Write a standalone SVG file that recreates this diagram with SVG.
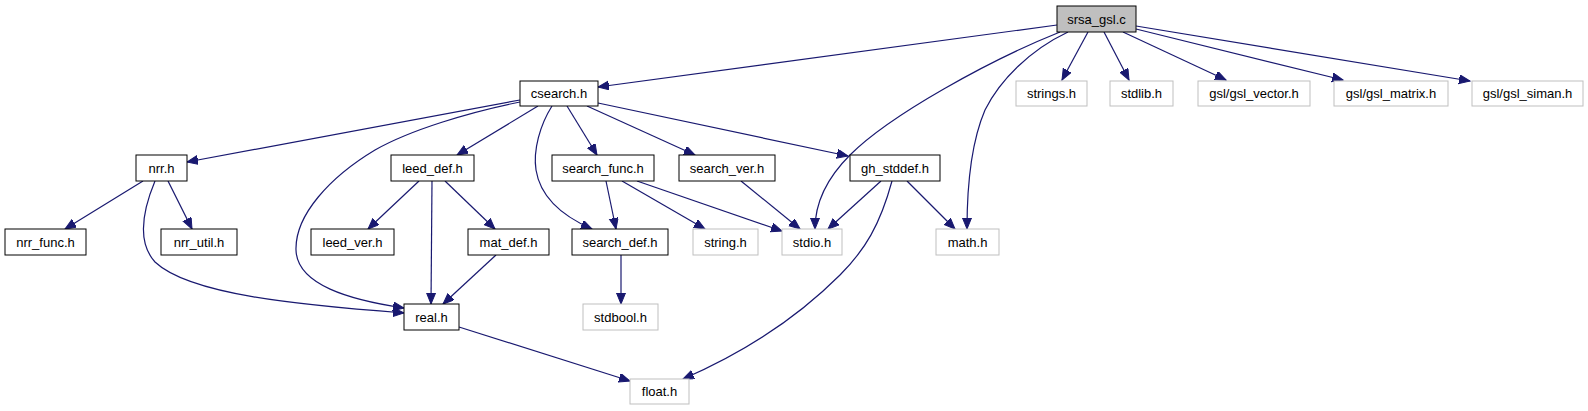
<svg xmlns="http://www.w3.org/2000/svg" width="1588" height="411" viewBox="0 0 1588 411">
<defs>
<marker id="ah" markerUnits="userSpaceOnUse" markerWidth="13" markerHeight="10" refX="11" refY="4.5" orient="auto">
<path d="M0,0 L11,4.5 L0,9 z" fill="#191970" stroke="#191970" stroke-width="1"/>
</marker>
<style>
.n rect{fill:#fff;stroke:#000;stroke-width:1}
.n.g rect{stroke:#bfbfbf}
.n.root rect{fill:#bfbfbf}
.n text{font-family:"Liberation Sans",Arial,sans-serif;font-size:13px;text-anchor:middle;fill:#000}
#edges path{fill:none;stroke:#191970;stroke-width:1.2;marker-end:url(#ah)}
</style>
</defs>
<rect width="1588" height="411" fill="#fff"/>
<g id="edges">
<path d="M1057,25 L598,87"/>
<path d="M1060,32 C 990,60 890,115 850,155 C 825,180 815,205 815,229"/>
<path d="M1068,32 C 1030,50 1000,80 985,110 C 970,145 967,190 967,229"/>
<path d="M1088,32 L1062,80"/>
<path d="M1104,32 L1129,80"/>
<path d="M1123,32 L1226,80"/>
<path d="M1136,29 L1343,80"/>
<path d="M1136,26 L1470,81"/>
<path d="M520,100 L187,162"/>
<path d="M520,102 C 470,112 410,130 375,150 C 330,177 295,215 296,250 C 297,285 350,300 404,308"/>
<path d="M538,106 L457,155"/>
<path d="M552,106 C 540,125 533,150 536,170 C 540,195 560,215 592,229"/>
<path d="M567,106 L597,155"/>
<path d="M587,106 L695,155"/>
<path d="M598,103 L848,156"/>
<path d="M143,181 L65,229"/>
<path d="M168,181 L192,229"/>
<path d="M155,181 C 145,205 135,240 155,262 C 190,295 300,305 404,313"/>
<path d="M419,181 L368,229"/>
<path d="M432,181 L431,304"/>
<path d="M445,181 L495,229"/>
<path d="M496,255 L443,304"/>
<path d="M606,181 L616,229"/>
<path d="M622,181 L705,229"/>
<path d="M637,181 L782,231"/>
<path d="M741,181 L800,229"/>
<path d="M881,181 L828,229"/>
<path d="M907,181 L955,229"/>
<path d="M892,181 C 880,225 865,250 840,275 C 800,315 750,350 683,379"/>
<path d="M621,255 L621,304"/>
<path d="M459,327 L630,381"/>
</g>
<g id="n_srsa" class="n root"><rect x="1057" y="6" width="79" height="26"/><text x="1096.5" y="23.5">srsa_gsl.c</text></g>
<g id="n_csearch" class="n"><rect x="520" y="81" width="78" height="25"/><text x="559" y="98">csearch.h</text></g>
<g id="n_strings" class="n g"><rect x="1016" y="81" width="71" height="25"/><text x="1051.5" y="98">strings.h</text></g>
<g id="n_stdlib" class="n g"><rect x="1110" y="81" width="63" height="25"/><text x="1141.5" y="98">stdlib.h</text></g>
<g id="n_gslvector" class="n g"><rect x="1198" y="81" width="112" height="25"/><text x="1254" y="98">gsl/gsl_vector.h</text></g>
<g id="n_gslmatrix" class="n g"><rect x="1334" y="81" width="114" height="25"/><text x="1391" y="98">gsl/gsl_matrix.h</text></g>
<g id="n_gslsiman" class="n g"><rect x="1472" y="81" width="111" height="25"/><text x="1527.5" y="98">gsl/gsl_siman.h</text></g>
<g id="n_nrr" class="n"><rect x="136" y="155" width="51" height="26"/><text x="161.5" y="172.5">nrr.h</text></g>
<g id="n_leeddef" class="n"><rect x="391" y="155" width="83" height="26"/><text x="432.5" y="172.5">leed_def.h</text></g>
<g id="n_searchfunc" class="n"><rect x="552" y="155" width="102" height="26"/><text x="603" y="172.5">search_func.h</text></g>
<g id="n_searchver" class="n"><rect x="679" y="155" width="96" height="26"/><text x="727" y="172.5">search_ver.h</text></g>
<g id="n_ghstddef" class="n"><rect x="850" y="155" width="90" height="26"/><text x="895" y="172.5">gh_stddef.h</text></g>
<g id="n_nrrfunc" class="n"><rect x="5" y="229" width="81" height="26"/><text x="45.5" y="246.5">nrr_func.h</text></g>
<g id="n_nrrutil" class="n"><rect x="161" y="229" width="76" height="26"/><text x="199" y="246.5">nrr_util.h</text></g>
<g id="n_leedver" class="n"><rect x="311" y="229" width="83" height="26"/><text x="352.5" y="246.5">leed_ver.h</text></g>
<g id="n_matdef" class="n"><rect x="468" y="229" width="81" height="26"/><text x="508.5" y="246.5">mat_def.h</text></g>
<g id="n_searchdef" class="n"><rect x="572" y="229" width="96" height="26"/><text x="620" y="246.5">search_def.h</text></g>
<g id="n_string" class="n g"><rect x="693" y="229" width="65" height="26"/><text x="725.5" y="246.5">string.h</text></g>
<g id="n_stdio" class="n g"><rect x="782" y="229" width="60" height="26"/><text x="812" y="246.5">stdio.h</text></g>
<g id="n_math" class="n g"><rect x="936" y="229" width="63" height="26"/><text x="967.5" y="246.5">math.h</text></g>
<g id="n_real" class="n"><rect x="404" y="304" width="55" height="26"/><text x="431.5" y="321.5">real.h</text></g>
<g id="n_stdbool" class="n g"><rect x="583" y="304" width="75" height="26"/><text x="620.5" y="321.5">stdbool.h</text></g>
<g id="n_float" class="n g"><rect x="630" y="379" width="59" height="25"/><text x="659.5" y="396">float.h</text></g>
</svg>
